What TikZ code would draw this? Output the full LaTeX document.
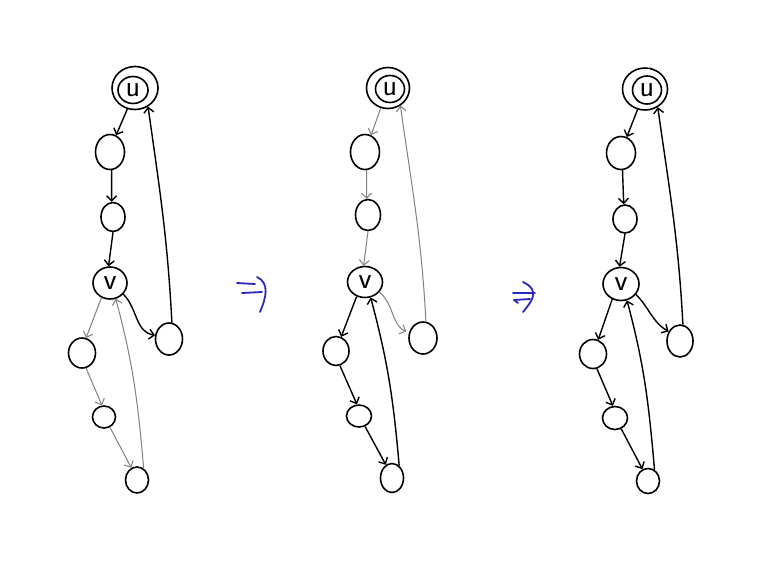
\documentclass[tikz,border=0pt]{standalone}
\usetikzlibrary{shapes.geometric,arrows.meta}
\definecolor{pen}{RGB}{40,40,190}
\begin{document}
\begin{tikzpicture}[x=1pt,y=-1pt,
 nd/.style={ellipse,draw,line width=1.6pt,inner sep=0pt},
 lbl/.style={font=\sffamily\fontsize{30}{30}\selectfont},
 blk/.style={draw=black,line width=1.4pt,-{Straight Barb[length=5pt,width=10pt]}},
 gry/.style={draw=black!50,line width=1pt,-{Straight Barb[length=5pt,width=10pt]}},
 hand/.style={draw=pen,line width=1.8pt,line cap=round,line join=round}]
\useasboundingbox[fill=white] (0,0) rectangle (784,560);

% ---------- graph 1 ----------
\node[nd,minimum width=46pt,minimum height=43pt] (uA) at (135,88) {};
\node[nd,minimum width=30pt,minimum height=27pt,lbl] (uAi) at (133,90) {u};
\node[nd,minimum width=29pt,minimum height=35pt] (aA) at (110,152) {};
\node[nd,minimum width=24pt,minimum height=29pt] (bA) at (113,217) {};
\node[nd,minimum width=34pt,minimum height=32pt,lbl] (vA) at (110,283) {v};
\node[nd,minimum width=27pt,minimum height=32pt] (rA) at (169,339) {};
\node[nd,minimum width=27pt,minimum height=30pt] (cA) at (82,353) {};
\node[nd,minimum width=23pt,minimum height=22pt] (dA) at (104,417) {};
\node[nd,minimum width=23pt,minimum height=26pt] (eA) at (137,480) {};
\draw[blk] (uA.250) -- (aA.70);
\draw[blk] (aA.-85) -- (bA.95);
\draw[blk] (bA.-90) -- (vA.95);
\draw[blk] (rA.80) to[out=93,in=-82] (uA.-55);
\draw[blk] (vA.-40) to[out=-45,in=170] (rA.165);
\draw[gry] (vA.240) -- (cA.75);
\draw[gry] (cA.-75) -- (dA.100);
\draw[gry] (dA.-60) -- (eA.115);
\draw[gry] (eA.60) to[out=95,in=-75] (vA.-70);

% ---------- graph 2 ----------
\node[nd,minimum width=43pt,minimum height=41pt] (uB) at (388,88) {};
\node[nd,minimum width=29pt,minimum height=27pt,lbl] (uBi) at (390,89) {u};
\node[nd,minimum width=29pt,minimum height=35pt] (aB) at (365,152) {};
\node[nd,minimum width=25pt,minimum height=31pt] (bB) at (368,215) {};
\node[nd,minimum width=35pt,minimum height=31pt,lbl] (vB) at (365,282) {v};
\node[nd,minimum width=28pt,minimum height=32pt] (rB) at (423,338) {};
\node[nd,minimum width=26pt,minimum height=29pt] (cB) at (336,351) {};
\node[nd,minimum width=25pt,minimum height=22pt] (dB) at (359,416) {};
\node[nd,minimum width=23pt,minimum height=29pt] (eB) at (392,478) {};
\draw[gry] (uB.250) -- (aB.70);
\draw[gry] (aB.-85) -- (bB.95);
\draw[gry] (bB.-90) -- (vB.95);
\draw[gry] (rB.80) to[out=93,in=-82] (uB.-55);
\draw[gry,shorten >=3pt] (vB.-35) to[out=-40,in=155] (rB.160);
\draw[blk] (vB.240) -- (cB.70);
\draw[blk] (cB.-75) -- (dB.100);
\draw[blk] (dB.-60) -- (eB.115);
\draw[blk] (eB.60) to[out=95,in=-75] (vB.-70);

% ---------- graph 3 ----------
\node[nd,minimum width=45pt,minimum height=42pt] (uC) at (645,89) {};
\node[nd,minimum width=29pt,minimum height=28pt,lbl] (uCi) at (647,90) {u};
\node[nd,minimum width=29pt,minimum height=33pt] (aC) at (621,153) {};
\node[nd,minimum width=24pt,minimum height=28pt] (bC) at (625,219) {};
\node[nd,minimum width=36pt,minimum height=33pt,lbl] (vC) at (621,284) {v};
\node[nd,minimum width=26pt,minimum height=32pt] (rC) at (680,341) {};
\node[nd,minimum width=27pt,minimum height=29pt] (cC) at (593,354) {};
\node[nd,minimum width=25pt,minimum height=23pt] (dC) at (615,418) {};
\node[nd,minimum width=23pt,minimum height=25pt] (eC) at (648,481) {};
\draw[blk] (uC.250) -- (aC.70);
\draw[blk] (aC.-85) -- (bC.95);
\draw[blk] (bC.-90) -- (vC.95);
\draw[blk] (rC.80) to[out=93,in=-82] (uC.-55);
\draw[blk] (vC.-35) to[out=-45,in=150] (rC.140);
\draw[blk] (vC.240) -- (cC.70);
\draw[blk] (cC.-75) -- (dC.100);
\draw[blk] (dC.-60) -- (eC.115);
\draw[blk] (eC.60) to[out=95,in=-75] (vC.-70);

% ---------- hand-drawn implication arrows ----------
\draw[hand] (237,283) -- (255,284);
\draw[hand] (242,293) -- (262,292);
\draw[hand] (257,277) .. controls (270,283) and (266,298) .. (260,312);
\draw[hand] (513,293) -- (535,293);
\draw[hand] (518,303) -- (514,300) -- (530,299);
\draw[hand] (523,282) .. controls (542,291) and (530,303) .. (523,312);
\end{tikzpicture}
\end{document}
